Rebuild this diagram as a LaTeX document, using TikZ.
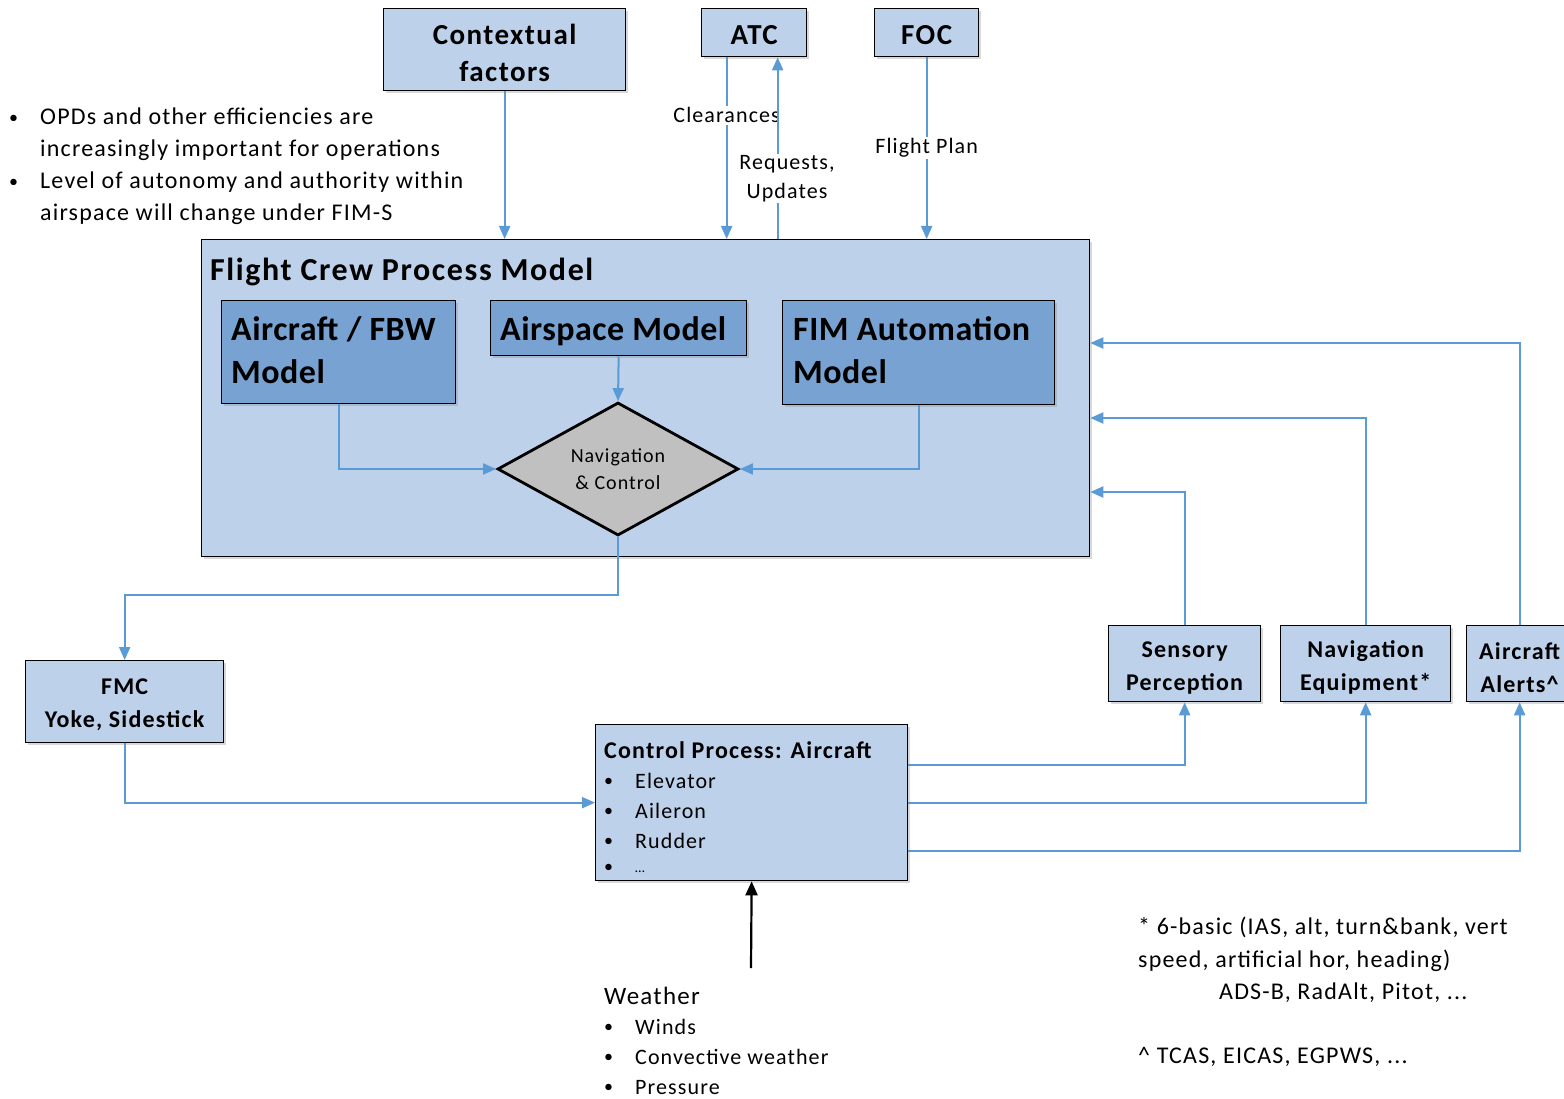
\documentclass[tikz,border=0pt]{standalone}
\usepackage{fontspec}
\setmainfont{Carlito}[LetterSpace=5]
\newfontfamily\tightfont{Carlito}[LetterSpace=1.5]
\usetikzlibrary{arrows.meta,shadows,shapes.geometric,calc}
\definecolor{lb}{HTML}{BDD1EA}
\definecolor{db}{HTML}{77A2D1}
\definecolor{ar}{HTML}{5B9BD5}
\definecolor{gr}{HTML}{C0C0C0}
\begin{document}
\begin{tikzpicture}[x=1pt,y=-1pt,
  box/.style={draw=black, line width=1.3pt, fill=lb, inner sep=0pt, anchor=north west,
    drop shadow={shadow xshift=2.5pt,shadow yshift=-2.5pt,opacity=0.3}},
  dbox/.style={box, fill=db},
  arr/.style={draw=ar, line width=2pt, -{Triangle[length=13pt,width=11pt]}},
  blk/.style={draw=black, line width=2.2pt, -{Triangle[length=14pt,width=12pt]}},
  tx/.style={anchor=base west, inner sep=0pt},
  bul/.style={anchor=base west, inner sep=0pt, font=\fontsize{18}{20}\selectfont, yshift=1.5pt},
  lbl/.style={fill=white, inner sep=1.5pt, font=\fontsize{22}{29}\selectfont, align=center},
  bt/.style={font=\bfseries\fontsize{24}{33}\selectfont, align=center, inner sep=0pt},
  big/.style={font=\tightfont\bfseries\fontsize{34}{43}\selectfont, align=left, anchor=base west, inner sep=0pt},
]
\useasboundingbox[fill=white] (0,0) rectangle (1564,1099);

% top boxes
\node[box, minimum width=242pt, minimum height=82pt] (ctx) at (383,8) {};
\node[bt, font=\bfseries\fontsize{29}{37}\selectfont] (ctxt) at ([yshift=-3pt]ctx.center) {Contextual\\factors};
\node[box, minimum width=105pt, minimum height=48pt] (atc) at (701,8) {};
\node[bt, font=\bfseries\fontsize{29}{37}\selectfont] (atct) at ([yshift=-2pt]atc.center) {ATC};
\node[box, minimum width=104pt, minimum height=48pt] (foc) at (874,8) {};
\node[bt, font=\bfseries\fontsize{29}{37}\selectfont] (foct) at ([yshift=-2pt]foc.center) {FOC};

% main box
\node[box, minimum width=888pt, minimum height=317pt] (main) at (201,239) {};
\node[tx, font=\bfseries\fontsize{32}{40}\selectfont] (title) at (210,281) {Flight Crew Process Model};

\node[dbox, minimum width=234pt, minimum height=103pt] (acm) at (221,300) {};
\node[big] (acmt) at (231,341) {Aircraft / FBW};
\node[big] (acmt2) at (231,384) {Model};
\node[dbox, minimum width=256pt, minimum height=55pt] (asm) at (490,300) {};
\node[big] (asmt) at (500,341) {Airspace Model};
\node[dbox, minimum width=272pt, minimum height=104pt] (fim) at (782,300) {};
\node[big] (fimt) at (793,341) {FIM Automation};
\node[big] (fimt2) at (793,384) {Model};

\node[diamond, draw=black, line width=2.8pt, fill=gr, minimum width=241pt, minimum height=133pt, shape aspect=1.81, inner sep=0pt, align=center, font=\fontsize{20}{27}\selectfont] (nc) at (618,469) {Navigation\\\& Control};

\draw[arr] (asm.south) -- (nc.north);
\draw[arr] (acm.south) |- (nc.west);
\draw[arr] (fim.south) |- (nc.east);

% top connectors
\draw[arr] (ctx.south) -- (ctx.south |- main.north);
\draw[arr] ([xshift=-27.5pt]atc.south) -- ([xshift=-27.5pt]atc.south |- main.north)
  node[lbl, pos=0.32] (clr) {Clearances};
\draw[arr] ([xshift=23.5pt]atc.south |- main.north) -- ([xshift=23.5pt]atc.south);
\node[lbl] (req) at (787,178.5) {Requests,\\Updates};
\draw[arr] (foc.south) -- (foc.south |- main.north) node[lbl, pos=0.5] (fpl) {Flight Plan};

% left bullets
\begin{scope}[font=\fontsize{24}{30}\selectfont]
\node[bul] (lb1) at (9,125) {•};
\node[tx] (lt1) at (40,125) {OPDs and other efficiencies are};
\node[tx] (lt2) at (40,157) {increasingly important for operations};
\node[bul] (lb2) at (9,189) {•};
\node[tx] (lt3) at (40,189) {Level of autonomy and authority within};
\node[tx] (lt4) at (40,221) {airspace will change under FIM-S};
\end{scope}

% lower boxes
\node[box, minimum width=198pt, minimum height=82pt] (fmc) at (25,660) {};
\node[bt] (fmct) at ([yshift=-3pt]fmc.center) {FMC\\Yoke, Sidestick};
\node[box, minimum width=312pt, minimum height=156pt] (ctrl) at (595,724) {};
\node[box, minimum width=152pt, minimum height=76pt] (sens) at (1108,625) {};
\node[bt] (senst) at ([yshift=-4pt]sens.center) {Sensory\\Perception};
\node[box, minimum width=170pt, minimum height=76pt] (neq) at (1280,625) {};
\node[bt] (neqt) at ([yshift=-4pt]neq.center) {Navigation\\Equipment*};
\node[box, minimum width=106pt, minimum height=76pt] (alr) at (1466,625) {};
\node[bt] (alrt) at ([yshift=-4pt]alr.center) {Aircraft\\Alerts\^{}};

\begin{scope}[font=\fontsize{22}{30}\selectfont]
\node[tx, font=\bfseries\fontsize{24}{30}\selectfont] (ct) at (604,758) {Control Process: Aircraft};
\node[bul] (cb1) at (604,788) {•}; \node[tx] (ci1) at (635,788) {Elevator};
\node[bul] (cb2) at (604,818) {•}; \node[tx] (ci2) at (635,818) {Aileron};
\node[bul] (cb3) at (604,848) {•}; \node[tx] (ci3) at (635,848) {Rudder};
\node[bul] (cb4) at (604,874) {•}; \node[tx, font=\fontsize{14}{20}\selectfont] (ci4) at (635,872) {…};
\node[tx, font=\fontsize{25}{30}\selectfont] (wt) at (604,1004) {Weather};
\node[bul] (wb1) at (604,1034) {•}; \node[tx] (wi1) at (635,1034) {Winds};
\node[bul] (wb2) at (604,1064) {•}; \node[tx] (wi2) at (635,1064) {Convective weather};
\node[bul] (wb3) at (604,1094) {•}; \node[tx] (wi3) at (635,1094) {Pressure};
\end{scope}

\begin{scope}[font=\fontsize{24}{30}\selectfont]
\node[tx] (n1) at (1138,934) {* 6-basic (IAS, alt, turn\&bank, vert};
\node[tx] (n2) at (1138,967) {speed, artificial hor, heading)};
\node[tx] (n3) at (1219,999) {ADS-B, RadAlt, Pitot, ...};
\node[tx] (n4) at (1138,1063) {\^{} TCAS, EICAS, EGPWS, ...};
\end{scope}

% lower connectors
\draw[arr] (nc.south) -- ++(0,58) -| (fmc.north);
\draw[arr] (fmc.south) |- (ctrl.west);
\draw[arr] ([yshift=38pt]ctrl.east) -| (sens.south);
\draw[arr] (ctrl.east) -| (neq.south);
\draw[arr] ([yshift=-48pt]ctrl.east) -| (alr.south);
\draw[arr] (sens.north) |- (main.east |- 0,492);
\draw[arr] (neq.north) |- (main.east |- 0,418);
\draw[arr] (alr.north) |- (main.east |- 0,343);

\coordinate (wx) at (751,968);
\draw[blk] (wx) -- (ctrl.south);
\end{tikzpicture}
\end{document}
